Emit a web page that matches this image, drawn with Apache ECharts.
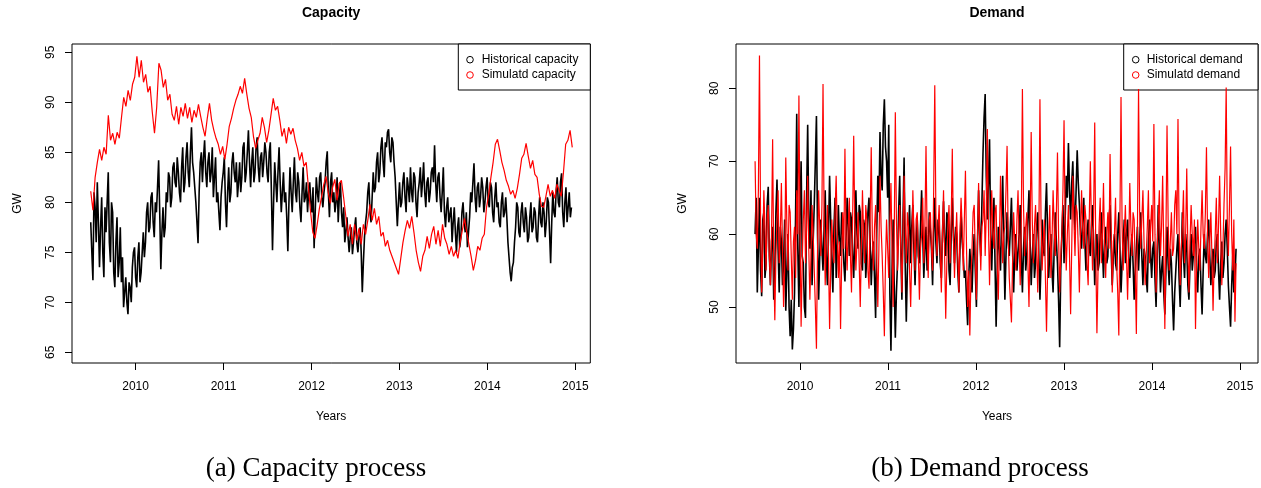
<!DOCTYPE html>
<html>
<head>
<meta charset="utf-8">
<script src="https://cdn.jsdelivr.net/npm/echarts@6/dist/echarts.min.js"></script>
<style>
html,body{margin:0;padding:0;background:#fff;}
#c{width:1261px;height:488px;}
</style>
</head>
<body>
<div id="c"></div>
<script>
// Sampling grids (years) of the plotted series
const START_YEAR = 2009.49;
const STEP_DENSE = 0.01245;   // capHist, demHist, demSim
const STEP_SIM_CAP = 0.025;   // capSim

const X_TICKS = [2010, 2011, 2012, 2013, 2014, 2015];
const CAP_Y_TICKS = [65, 70, 75, 80, 85, 90, 95];
const DEM_Y_TICKS = [50, 60, 70, 80];

// Capacity (GW)
const capHist = [
  78, 75, 72.2, 81, 79.5, 76, 82, 78, 73.5, 77.5, 80.5, 75, 72.5, 79.5, 77, 80, 83, 76, 74, 80,
  79, 73, 71.5, 76, 78.5, 72.5, 74, 77.5, 72, 74.5, 69.5, 71, 72.5, 70, 68.8, 72, 71.5, 70, 73.5, 75,
  75.5, 72.5, 71.5, 74.5, 76, 72, 73, 75, 77, 74.5, 76, 79, 80, 77, 77.5, 80.5, 81, 78, 76.5, 80,
  79, 81.5, 84.2, 79, 73.3, 77, 79.5, 76.5, 77.5, 81, 80, 83, 82.5, 79.5, 80.5, 83.5, 84, 82, 81.5, 84.5,
  83, 81, 80, 83.5, 85.5, 81, 82, 84.5, 86, 83, 81.5, 85, 87.5, 84, 83, 81.5, 80, 78, 75.9, 81,
  84, 85, 82, 84.5, 86.2, 83, 81.5, 84, 85, 82, 83, 85.5, 80.5, 82.5, 84.5, 80, 81, 79, 77.2, 80.5,
  82, 83, 84.5, 80, 77.5, 81, 83.5, 80, 81, 84, 85, 83, 82, 84, 80.5, 82, 84, 81, 82.5, 85.5,
  86, 82, 83, 85, 87.2, 84, 81.5, 84, 85.5, 82, 83, 85.5, 86.5, 83.5, 82, 84.5, 85, 82.5, 84, 86,
  85, 83, 82, 85, 86, 81, 75.2, 80, 84, 82, 80, 83, 85.5, 82, 79, 81, 83, 80, 81, 78.5,
  75.1, 80, 83.5, 81, 79, 82, 84.5, 81, 80, 83, 82, 79.5, 78, 81, 83.5, 80, 80.5, 82, 79, 81,
  82, 80, 79, 81.5, 75.4, 79, 82.5, 81, 80, 82.5, 83, 80.5, 79.5, 81, 82, 84, 85.1, 81, 78.5, 82,
  83, 80, 81, 79, 80, 82.5, 78, 80.5, 82, 79, 77.5, 79.5, 76, 77, 78.5, 76.5, 75, 76.5, 77.5, 74.8,
  76, 77.5, 78.5, 76, 75, 76.5, 77.5, 75, 71, 74, 76.5, 78, 79, 81, 82, 79, 78, 80.5, 83, 81,
  81.5, 84, 85, 82, 83, 85.5, 86.5, 84, 82.5, 86, 85.5, 87, 87.3, 85, 84, 86.5, 86, 84, 82.5, 80,
  77.6, 80, 82, 79.5, 80, 82, 83, 80.5, 79, 82.5, 81.5, 80, 83.5, 81, 80, 83, 82.5, 80, 78.5, 81,
  82, 83.5, 80.5, 82, 84, 81, 79.5, 82, 82.5, 80, 81, 83, 83.5, 82, 85.7, 82, 80, 82.5, 83, 80.5,
  79, 81, 83.5, 79, 77.5, 79.5, 80.5, 78, 78, 79.5, 76, 78, 79.5, 77, 75, 77.5, 78.5, 75.5, 76.5, 79,
  80, 78, 77, 79, 75.5, 77, 78.5, 81, 80, 82, 83.9, 80.5, 79, 81.5, 82, 79.5, 80.5, 82.5, 81.5, 79,
  80, 81.5, 82.5, 80, 79.5, 82, 81.5, 79, 78, 80.5, 82, 79.5, 80, 78, 77.5, 80, 81, 78.5, 79, 80.5,
  78.5, 76, 74.5, 73, 72.1, 73.5, 74, 76, 77.5, 80, 79.5, 77, 76.5, 79, 80, 78, 77, 79.5, 78.5, 76,
  76.5, 78.5, 80, 77, 77.5, 79.5, 79, 76.5, 76, 78.5, 80.5, 78, 77.5, 80, 79, 76.5, 78, 80.5, 80, 77,
  73.9, 78, 81, 79, 78.5, 81, 82.5, 80, 79.5, 82, 82.9, 79, 77.5, 80, 81.5, 78, 79.5, 81, 78.5, 79.5
];
const capSim = [
  81.1, 79.2, 82.5, 84, 85.3, 84.2, 85.5, 84.8, 88.7, 86.2, 86.9, 85.8, 87, 86.4, 88.5, 90.5, 89.6, 91.2, 90.2, 91.8,
  92.5, 94.6, 92.5, 94.2, 92, 92.8, 91, 91.6, 89, 86.9, 89.5, 93.9, 93.2, 91.5, 92.3, 90.2, 90.8, 88.8, 88.2, 89.6,
  87.8, 89.5, 88.6, 89.9, 88.4, 89.5, 88, 89.2, 88.5, 89.8, 88.6, 87.5, 86.6, 88.4, 89.9, 88.2, 87.2, 86.4, 85.8, 84.8,
  85.6, 84.3, 85.8, 87.6, 88.4, 89.4, 90.2, 90.8, 91.6, 90.9, 92.4, 90.8, 89.4, 88.5, 86.6, 85.4, 86.2, 86.9, 88.5, 87.5,
  86, 87.2, 88.8, 90.4, 89.2, 89.6, 88.2, 86.6, 87.4, 85.9, 87.5, 86.8, 87.4, 86.2, 85.4, 84.2, 85, 83.6, 84, 81.5,
  79, 77, 76.4, 77.8, 79.4, 80.6, 81.8, 82.6, 81, 79.9, 81.5, 82.3, 80.2, 81.9, 82.2, 80.5, 78.6, 76.6, 77.8, 75.8,
  77.8, 76.2, 77.4, 75.8, 77.8, 76.8, 78.2, 79.8, 78.2, 79.4, 77.8, 78.6, 76.6, 77, 75.6, 76.2, 75.2, 74.6, 74, 73.4,
  72.8, 74.4, 76, 77.2, 78.2, 77.4, 78.6, 77, 75.2, 74, 73.1, 74.6, 75.2, 76.6, 75.4, 76.8, 77.6, 75.8, 77.2, 75.6,
  77.8, 76.4, 75.8, 74.8, 75.6, 74.6, 75.2, 74.4, 76, 77.2, 78.4, 77, 75.8, 74.6, 73.2, 74.2, 75.6, 75.2, 76.4, 76.8,
  79.5, 80.8, 82.5, 84, 85.8, 86.3, 85.2, 84, 83.2, 82.2, 81.6, 80.8, 81.2, 80.4, 81.4, 82.8, 84.4, 84.8, 85.9, 84.6,
  83.4, 84.2, 82.8, 82.5, 80.8, 79.6, 79.5, 80.6, 81.8, 80.6, 81.2, 80.4, 81.8, 81.2, 80.6, 83, 85.8, 86.2, 87.2, 85.5
];

// Demand (GW)
const demHist = [
  60, 65, 52, 58, 65, 55, 51.5, 62, 63, 54, 56, 64, 66.5, 57, 53, 59, 61, 51, 55, 63,
  67.5, 58, 52, 61, 59, 53, 56, 62, 49.5, 55, 60, 50, 46, 51, 44.2, 47, 52, 63, 76.5, 58,
  50, 62, 70, 57, 56, 50, 48.5, 65, 75, 62, 58, 66, 53, 59, 64, 70, 76.2, 60, 51, 57,
  62, 58, 55, 61, 66, 57, 53, 60, 68, 62, 56, 52, 61, 65, 54, 58, 64, 59, 57, 63,
  60, 56, 53.5, 59, 65, 61, 57, 63, 62, 57, 54, 60, 66, 60, 58, 64, 63, 56, 55, 62,
  61, 54, 57, 63, 65, 59, 53, 57, 59, 54, 48.5, 60, 68, 63, 74, 68, 66, 75, 78.5, 72,
  70, 65, 75, 52, 44, 55, 62, 53, 45.8, 52, 56, 63, 68, 58, 51, 62, 70.5, 56, 48, 55,
  60, 64, 56, 61, 64, 58, 53, 59, 62, 57, 56, 61, 66, 60, 54, 58, 61, 55, 57, 63,
  63, 58, 53, 60, 65, 59, 56, 62, 61, 56, 54, 60, 64.5, 59, 57, 63, 62, 55, 53, 60,
  65, 60, 56, 61, 60, 55, 52, 58, 63, 59, 57, 54, 55, 51, 47.5, 54, 58, 55, 52, 57,
  60, 55, 50, 59, 66, 60, 57, 64, 71, 76, 79.2, 68, 62, 67, 73, 60, 55, 61, 65, 56,
  47.3, 55, 61, 58, 55, 62, 68, 59, 51, 57, 63, 59, 57, 61, 65, 58, 52, 57, 60, 55,
  55, 60, 64, 57, 52, 58, 61, 55, 57, 62, 66, 59, 53, 57, 60, 54, 56, 61, 63, 57,
  51, 56, 62, 58, 57, 63, 67, 60, 54, 58, 60, 55, 52, 58, 63, 59, 56, 51, 44.5, 55,
  60, 64, 56, 62, 68, 65, 72.5, 66, 62, 67, 70, 64, 60.5, 66, 71.5, 67, 64, 60, 58, 62,
  65, 59, 55, 60, 62, 58, 57, 61, 64, 59, 53, 57, 60, 55, 56, 60, 63, 58, 54, 59,
  61, 56, 57, 62, 64, 58, 53, 57, 60, 56, 55, 60, 63, 58, 52, 56, 59, 62, 56, 60,
  62, 57, 54, 58, 60, 56, 51, 55, 58, 61, 55, 59, 63, 57, 53, 58, 57, 54, 52, 59,
  62, 57, 54, 58, 59, 54, 50, 57, 64, 58, 52, 55, 57, 52, 49, 55, 61, 56, 53, 58,
  56, 51, 46.8, 52, 55, 58, 60, 54, 50, 56, 63, 57, 54, 60, 58, 53, 51, 56, 60, 55,
  55, 59, 61, 55, 52, 57, 58, 53, 49, 55, 60, 57, 56, 60, 62, 57, 53, 56, 58, 54,
  55, 59, 60, 55, 51, 56, 59, 54, 56, 60, 62, 58, 53, 50, 47.3, 53, 57, 52, 54, 58
];
const demSim = [
  70, 60, 58, 66, 84.5, 62, 52, 58, 66, 61, 55, 62, 64, 57, 53, 60, 73, 56, 48.2, 57,
  62, 66, 56, 60, 67, 58, 50, 55, 70.5, 61, 55, 64, 63, 57, 51, 59, 61, 54, 66, 60,
  79, 60, 47.3, 56, 62, 66, 56, 61, 68, 58, 51, 57, 64, 60, 55, 50, 44.3, 58, 66, 61,
  57, 64, 80.6, 62, 53, 59, 64, 57, 47, 55, 62, 58, 56, 63, 68, 60, 54, 59, 47, 56,
  63, 58, 71.7, 60, 55, 61, 65, 57, 52, 62, 73.5, 61, 55, 59, 63, 56, 50, 58, 66, 60,
  56, 64, 62, 55, 52.5, 62, 71.9, 60, 55, 61, 64, 57, 50, 58, 68, 61, 57, 52, 46, 56,
  62, 58, 54, 61, 67, 58, 50, 60, 76.7, 62, 55, 60, 64, 58, 52, 60, 68, 61, 56, 63,
  61, 55, 50, 57, 66, 60, 55, 62, 63, 57, 51, 58, 60, 65, 56, 61, 72.1, 60, 54, 62,
  63, 58, 55, 66, 80.4, 63, 57, 61, 64, 58, 52, 60, 66, 57, 48.4, 56, 61, 64, 56, 62,
  71.7, 60, 54, 59, 63, 57, 52, 60, 65, 61, 55, 62, 68.7, 58, 50, 55, 46.1, 54, 58, 63,
  64, 57, 51, 59, 67, 60, 55, 61, 62, 66, 57, 63, 74.4, 61, 53, 60, 66, 60, 58, 63,
  64, 56, 51, 59, 68, 62, 56, 60, 61, 66, 72.1, 60, 54, 51, 47.9, 56, 63, 59, 55, 62,
  66, 59, 53, 62, 79.9, 64, 57, 61, 63, 56, 50, 60, 74, 62, 56, 61, 64, 58, 52, 60,
  78.5, 62, 55, 59, 62, 54, 46.6, 55, 60, 64, 54, 59, 66, 61, 57, 63, 71.2, 60, 52, 57,
  60, 66, 75.6, 61, 55, 60, 64, 57, 49, 58, 68, 62, 57, 64, 63, 58, 52, 60, 66, 61,
  58, 64, 62, 56, 53, 62, 70, 61, 55, 63, 75.3, 57, 46.4, 55, 61, 65, 56, 60, 67, 58,
  54, 60, 63, 58, 71, 61, 52, 59, 60, 65, 56, 52, 46.1, 62, 78.8, 61, 55, 60, 64, 57,
  51, 58, 67, 61, 57, 63, 62, 55, 46.3, 61, 79.9, 63, 58, 62, 66, 59, 53, 57, 61, 66,
  56, 61, 64, 59, 75.1, 60, 52, 58, 62, 66, 57, 61, 68, 58, 47, 60, 74.9, 62, 55, 59,
  63, 57, 58, 64, 66, 60, 75.8, 61, 53, 58, 61, 66, 56, 60, 69, 58, 52, 59, 64, 60,
  57, 62, 47, 56, 62, 58, 55, 61, 66, 60, 58, 63, 71.9, 60, 54, 59, 63, 57, 49.5, 56,
  60, 65, 56, 61, 68, 60, 53, 58, 64, 69, 80.1, 62, 57, 64, 72, 60, 55, 62, 48, 56
];

const pairs = (arr, step) => arr.map((v, i) => [START_YEAR + i * step, v]);

const FONT = 'Liberation Sans, Arial, Helvetica, sans-serif';
const SERIF = 'Liberation Serif, Times New Roman, serif';

const P1 = {left: 72, top: 44, right: 590.3, bottom: 363};
const P2 = {left: 736, top: 44, right: 1258, bottom: 363};

function grid(p) {
  return {left: p.left, top: p.top, width: p.right - p.left, height: p.bottom - p.top,
    show: true, borderColor: '#000', borderWidth: 1, backgroundColor: 'transparent', containLabel: false};
}
function xAx(gi, min, max) {
  return {type: 'value', gridIndex: gi, min, max,
    axisLine: {show: false}, splitLine: {show: false},
    axisTick: {show: true, inside: false, length: 7, customValues: X_TICKS, lineStyle: {color: '#000', width: 1}},
    axisLabel: {show: true, customValues: X_TICKS, margin: 18, color: '#000', fontFamily: FONT, fontSize: 12,
      formatter: v => String(Math.round(v))}};
}
function yAx(gi, min, max, ticks) {
  return {type: 'value', gridIndex: gi, min, max,
    axisLine: {show: false}, splitLine: {show: false},
    axisTick: {show: true, inside: false, length: 7, customValues: ticks, lineStyle: {color: '#000', width: 1}},
    axisLabel: {show: true, customValues: ticks, rotate: 90, margin: 15, color: '#000', fontFamily: FONT, fontSize: 12,
      formatter: v => String(Math.round(v))}};
}
function line(name, xi, data, step, color, w) {
  return {name, type: 'line', xAxisIndex: xi, yAxisIndex: xi, data: pairs(data, step),
    showSymbol: false, symbol: 'none', silent: true, animation: false, clip: true,
    lineStyle: {color, width: w}, itemStyle: {color}};
}
function txt(x, y, text, font, opts) {
  return Object.assign({type: 'text', x, y, silent: true,
    style: {text, font, fill: '#000', align: 'center', verticalAlign: 'middle',
      textAlign: 'center', textVerticalAlign: 'middle'}}, opts || {});
}
function legend(x, y, w, h, cx, tx, labels) {
  const els = [{type: 'rect', shape: {x, y, width: w, height: h}, silent: true,
    style: {fill: '#fff', stroke: '#000', lineWidth: 1}}];
  const rows = [y + 15.7, y + 31];
  const cols = ['#000', '#ff0000'];
  labels.forEach((lab, k) => {
    els.push({type: 'circle', shape: {cx, cy: rows[k], r: 3.3}, silent: true,
      style: {fill: 'none', stroke: cols[k], lineWidth: 1}});
    els.push({type: 'text', x: tx, y: rows[k], silent: true,
      style: {text: lab, font: '12px ' + FONT, fill: '#000', align: 'left', verticalAlign: 'middle',
        textAlign: 'left', textVerticalAlign: 'middle'}});
  });
  return els;
}

const chart = echarts.init(document.getElementById('c'), null, {renderer: 'canvas', width: 1261, height: 488});
chart.setOption({
  animation: false,
  backgroundColor: '#fff',
  grid: [grid(P1), grid(P2)],
  xAxis: [xAx(0, 2009.277, 2015.17), xAx(1, 2009.273, 2015.205)],
  yAxis: [yAx(0, 63.93, 95.83, CAP_Y_TICKS), yAx(1, 42.33, 86.07, DEM_Y_TICKS)],
  series: [
    line('Historical capacity', 0, capHist, STEP_DENSE, '#000000', 1.6),
    line('Simulatd capacity', 0, capSim, STEP_SIM_CAP, '#ff0000', 1.2),
    line('Historical demand', 1, demHist, STEP_DENSE, '#000000', 1.6),
    line('Simulatd demand', 1, demSim, STEP_DENSE, '#ff0000', 1.2)
  ],
  graphic: [
    txt((P1.left + P1.right) / 2, 13.5, 'Capacity', 'bold 14px ' + FONT),
    txt((P2.left + P2.right) / 2, 13.5, 'Demand', 'bold 14px ' + FONT),
    txt((P1.left + P1.right) / 2, 417, 'Years', '12px ' + FONT),
    txt((P2.left + P2.right) / 2, 417, 'Years', '12px ' + FONT),
    txt(18, (P1.top + P1.bottom) / 2, 'GW', '12px ' + FONT, {rotation: Math.PI / 2}),
    txt(683, (P2.top + P2.bottom) / 2, 'GW', '12px ' + FONT, {rotation: Math.PI / 2}),
    txt(316, 469, '(a) Capacity process', '27px ' + SERIF),
    txt(980, 469, '(b) Demand process', '27px ' + SERIF),
    ...legend(458.3, 44, 132, 46, 470, 481.7, ['Historical capacity', 'Simulatd capacity']),
    ...legend(1123.7, 44, 134.3, 46, 1135.7, 1146.7, ['Historical demand', 'Simulatd demand'])
  ]
});
</script>
</body>
</html>
